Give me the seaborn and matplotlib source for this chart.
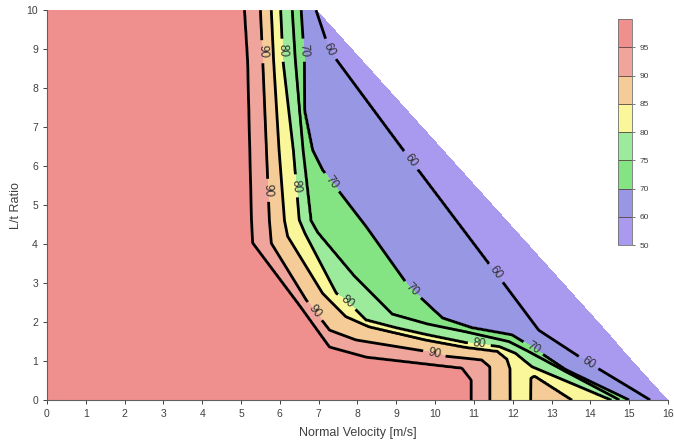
import numpy as np
import matplotlib
matplotlib.use("Agg")
import matplotlib.pyplot as plt
from matplotlib.path import Path
import seaborn as sns

# filled bands 50-60 ... 95-100 and their colours
levels = [50, 60, 70, 75, 80, 85, 90, 95, 100]
band_colors = ['#a99af0', '#9797e4', '#84e484', '#9ceb9c', '#f9f79a', '#f5cb98', '#f0a59c', '#f0908e']
line_levels = [60, 70, 75, 80, 85, 90, 95]
label_levels = [60, 70, 80, 90]
plain_levels = [75, 85, 95]
cbar_ticks = [50, 60, 70, 75, 80, 85, 90, 95]

# contour crossings (x = normal velocity, y = L/t ratio)
c95_x = [5.09, 5.17, 5.27, 5.30, 6.50, 7.28, 8.23, 10.69, 10.93, 10.93]
c95_y = [10, 8.72, 4.62, 4.03, 2.44, 1.36, 1.10, 0.82, 0.51, 0]
c90_x = [5.50, 5.56, 5.73, 5.78, 6.68, 7.28, 7.96, 9.76, 10.30, 11.20, 11.41, 11.41]
c90_y = [10, 8.72, 4.62, 4.02, 2.56, 1.79, 1.54, 1.25, 1.12, 1.03, 0.85, 0]
c85_x = [5.78, 5.84, 5.98, 6.12, 6.20, 7.10, 7.70, 8.30, 9.76, 10.80, 11.60, 11.85, 11.93, 11.93]
c85_y = [10, 8.70, 6.40, 4.60, 4.20, 2.74, 2.14, 1.88, 1.54, 1.35, 1.25, 1.05, 0.80, 0]
island85_x = [12.46, 12.46, 12.56, 13.53]
island85_y = [0, 0.56, 0.62, 0]
c80_x = [6.02, 6.08, 6.35, 6.50, 6.65, 7.45, 7.79, 8.22, 9.00, 9.76, 10.79, 11.65, 12.07, 12.50, 14.55]
c80_y = [10, 8.70, 6.40, 4.62, 4.27, 2.74, 2.48, 2.05, 1.85, 1.68, 1.47, 1.37, 1.20, 0.85, 0]
c75_x = [6.32, 6.40, 6.60, 6.80, 6.97, 7.90, 8.90, 9.80, 10.80, 11.90, 12.40, 14.75]
c75_y = [10, 8.72, 6.40, 4.60, 4.30, 3.20, 2.20, 1.95, 1.75, 1.50, 1.25, 0]
c70_x = [6.55, 6.63, 6.63, 6.84, 7.10, 8.23, 9.33, 10.19, 10.95, 11.98, 12.49, 13.37, 15.00]
c70_y = [10, 8.72, 7.44, 6.41, 5.90, 4.44, 2.90, 2.10, 1.85, 1.67, 1.36, 0.77, 0]
c60_x = [6.93, 7.28, 9.38, 11.57, 12.67, 13.96, 15.54]
c60_y = [10, 8.97, 6.15, 3.26, 1.79, 0.95, 0]

# edge of the computed domain (white corner top right)
edge_x = [6.95, 16.0]
edge_y = [10, 0]

label_x = [5.48, 5.73, 6.84, 9.97, 5.99, 6.53, 7.76, 11.13, 6.55, 7.35, 9.46, 12.55, 7.23, 9.38, 11.57, 13.96]
label_y = [8.93, 5.38, 2.23, 1.15, 8.97, 5.50, 2.56, 1.38, 8.97, 5.59, 2.87, 1.36, 8.97, 6.15, 3.26, 0.97]

curves = {
    60: [(c60_x, c60_y)],
    70: [(c70_x, c70_y)],
    75: [(c75_x, c75_y)],
    80: [(c80_x, c80_y)],
    85: [(c85_x, c85_y), (island85_x, island85_y)],
    90: [(c90_x, c90_y)],
    95: [(c95_x, c95_y)],
}


def polyline_dist(px, py, xs, ys):
    d = np.full(px.shape, np.inf)
    for x0, y0, x1, y1 in zip(xs[:-1], ys[:-1], xs[1:], ys[1:]):
        dx, dy = x1 - x0, y1 - y0
        t = np.clip(((px - x0) * dx + (py - y0) * dy) / (dx * dx + dy * dy), 0, 1)
        d = np.minimum(d, np.hypot(px - x0 - t * dx, py - y0 - t * dy))
    return d


def region(xs, ys):
    # close the crossing line along the border of the plot
    pts = list(zip(xs, ys))
    if ys[0] > 5:
        pts += [(xs[-1], -1), (-1, -1), (-1, 11), (xs[0], 11)]
    else:
        pts += [(xs[-1], -1), (xs[0], -1)]
    return Path(pts)


gx = np.linspace(0, 16, 641)
gy = np.linspace(0, 10, 401)
X, Y = np.meshgrid(gx, gy)
px, py = X.ravel(), Y.ravel()
pts = np.column_stack([px, py])

inside = np.zeros((len(line_levels), px.size), bool)
dist = np.zeros((len(line_levels), px.size))
for i, lev in enumerate(line_levels):
    d = np.full(px.shape, np.inf)
    for xs, ys in curves[lev]:
        inside[i] |= region(xs, ys).contains_points(pts)
        d = np.minimum(d, polyline_dist(px, py, xs, ys))
    dist[i] = d

k = inside.sum(axis=0)
Z = np.empty(px.size)
lo = k == 0
hi = k == len(line_levels)
Z[lo] = 60 - 9 * np.minimum(dist[0, lo] / 0.5, 1)
Z[hi] = 95 + 4 * np.minimum(dist[-1, hi] / 0.5, 1)
mid = ~lo & ~hi
km = k[mid]
idx = np.nonzero(mid)[0]
lower = np.array(line_levels)[km - 1]
upper = np.array(line_levels)[km]
d_in = dist[km - 1, idx]
d_out = dist[km, idx]
Z[mid] = lower + (upper - lower) * d_in / (d_in + d_out + 1e-9)
Z = Z.reshape(X.shape)

edge = np.interp(Y, edge_y[::-1], edge_x[::-1])
Z = np.ma.masked_where(X > edge, Z)

sns.set_style("ticks")
plt.rcParams['font.family'] = ['Liberation Sans', 'DejaVu Sans']
text_color = '#404040'

fig = plt.figure(figsize=(6.74, 4.42), dpi=100)
ax = fig.add_axes([0.0697, 0.095, 0.9214, 0.882])

cf = ax.contourf(X, Y, Z, levels=levels, colors=band_colors)
ax.contour(X, Y, Z, levels=plain_levels, colors='black', linewidths=2.0)
cs = ax.contour(X, Y, Z, levels=label_levels, colors='black', linewidths=2.0)
ax.clabel(cs, manual=list(zip(label_x, label_y)),
          fmt='%d', fontsize=8.5, colors='#303030', inline=True, inline_spacing=5)

ax.set_xlim(0, 16)
ax.set_ylim(0, 10)
ax.set_xticks(range(0, 17))
ax.set_yticks(range(0, 11))
ax.set_xlabel('Normal Velocity [m/s]', fontsize=9, color=text_color, labelpad=6)
ax.set_ylabel('L/t Ratio', fontsize=9, color=text_color, labelpad=3)
ax.tick_params(labelsize=7.5, colors=text_color, length=3, width=0.7)
sns.despine(ax=ax)
for s in ['left', 'bottom']:
    ax.spines[s].set_color('#606060')
    ax.spines[s].set_linewidth(0.8)

cax = fig.add_axes([0.917, 0.4457, 0.0208, 0.511])
cb = fig.colorbar(cf, cax=cax, ticks=cbar_ticks)
cb.add_lines(line_levels, ['#5a4040'] * len(line_levels), [0.6] * len(line_levels))
cb.outline.set_edgecolor('#707070')
cb.outline.set_linewidth(0.6)
cax.tick_params(labelsize=6, colors=text_color, length=2, width=0.5)

fig.savefig('out.png', dpi=100)
